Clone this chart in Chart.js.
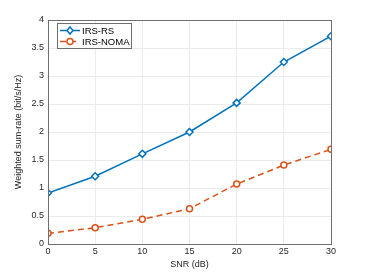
<!DOCTYPE html>
<html>
<head>
<meta charset="utf-8">
<script src="https://cdn.jsdelivr.net/npm/chart.js@4.4.0/dist/chart.umd.min.js"></script>
<style>
  html, body { margin: 0; padding: 0; background: #fff; }
  #wrap { width: 366px; height: 274px; }
</style>
</head>
<body>
<div id="wrap"><canvas id="chart" width="366" height="274"></canvas></div>
<script>
// data
const snr = [0, 5, 10, 15, 20, 25, 30];
const irsRS = [0.91, 1.21, 1.61, 2.0, 2.52, 3.25, 3.71];
const irsNOMA = [0.19, 0.29, 0.44, 0.63, 1.07, 1.41, 1.69];
const seriesNames = ['IRS-RS', 'IRS-NOMA'];

const blue = '#0072BD';
const orange = '#D95319';
const axisColor = '#262626';
const boxColor = '#6e6e6e';
const font = 'Liberation Sans, Arial, sans-serif';

// box around the axes + legend inside the plot (matlab style)
const matlabBox = {
    id: 'matlabBox',
    afterDraw(chart) {
        const c = chart.ctx;
        const a = chart.chartArea;
        c.save();
        c.strokeStyle = boxColor;
        c.lineWidth = 1;
        c.strokeRect(Math.round(a.left) + 0.5, Math.round(a.top) + 0.5,
            Math.round(a.right - a.left), Math.round(a.bottom - a.top));

        // legend
        const lx = 57, ly = 23, lw = 74, lh = 25;
        c.fillStyle = '#fff';
        c.fillRect(lx, ly, lw, lh);
        c.strokeStyle = boxColor;
        c.strokeRect(lx + 0.5, ly + 0.5, lw, lh);
        chart.data.datasets.forEach((ds, i) => {
            const y = ly + 7.5 + i * 11;
            c.strokeStyle = ds.borderColor;
            c.lineWidth = 1.5;
            c.setLineDash(ds.borderDash || []);
            c.beginPath();
            c.moveTo(lx + 3, y);
            c.lineTo(lx + 23, y);
            c.stroke();
            c.setLineDash([]);
            c.beginPath();
            if (ds.pointStyle === 'rectRot') {
                c.moveTo(lx + 13, y - 3.5);
                c.lineTo(lx + 16, y);
                c.lineTo(lx + 13, y + 3.5);
                c.lineTo(lx + 10, y);
                c.closePath();
            } else {
                c.arc(lx + 13, y, 3, 0, Math.PI * 2);
            }
            c.fillStyle = '#fff';
            c.fill();
            c.stroke();
            c.fillStyle = '#000';
            c.font = '9.5px ' + font;
            c.textBaseline = 'middle';
            c.fillText(ds.label, lx + 25, y + 0.5);
        });
        c.restore();
    }
};

const ctx = document.getElementById('chart').getContext('2d');
const chart = new Chart(ctx, {
    type: 'line',
    data: {
        datasets: [{
            label: seriesNames[0],
            data: snr.map((x, i) => ({ x: x, y: irsRS[i] })),
            borderColor: blue,
            backgroundColor: '#fff',
            borderWidth: 1.5,
            tension: 0,
            pointStyle: 'rectRot',
            pointRadius: 3.5,
            pointBorderWidth: 1.5,
            fill: false
        }, {
            label: seriesNames[1],
            data: snr.map((x, i) => ({ x: x, y: irsNOMA[i] })),
            borderColor: orange,
            backgroundColor: '#fff',
            borderWidth: 1.5,
            tension: 0,
            borderDash: [6, 4],
            pointStyle: 'circle',
            pointRadius: 3,
            pointBorderWidth: 1.5,
            fill: false
        }]
    },
    options: {
        responsive: false,
        animation: false,
        layout: { padding: { left: 0, top: 20, right: 35, bottom: 0 } },
        plugins: { legend: { display: false }, tooltip: { enabled: false } },
        scales: {
            x: {
                type: 'linear',
                min: 0, max: 30,
                afterFit: (s) => { s.height = 30; },
                ticks: { stepSize: 5, color: axisColor, font: { family: font, size: 9 }, padding: 2, maxRotation: 0 },
                grid: { color: '#ebebeb', tickLength: 0 },
                border: { display: false },
                title: { display: true, text: 'SNR (dB)', color: axisColor, font: { family: font, size: 9 }, padding: { top: 0 } }
            },
            y: {
                min: 0, max: 4,
                afterFit: (s) => { s.width = 48; },
                ticks: { stepSize: 0.5, color: axisColor, font: { family: font, size: 9 }, padding: 4,
                    callback: (v) => String(Math.round(v * 10) / 10) },
                grid: { color: '#ebebeb', tickLength: 0 },
                border: { display: false },
                title: { display: true, text: 'Weighted sum-rate (bit/s/Hz)', color: axisColor, font: { family: font, size: 9 }, padding: { top: 13 } }
            }
        }
    },
    plugins: [matlabBox]
});
</script>
</body>
</html>
